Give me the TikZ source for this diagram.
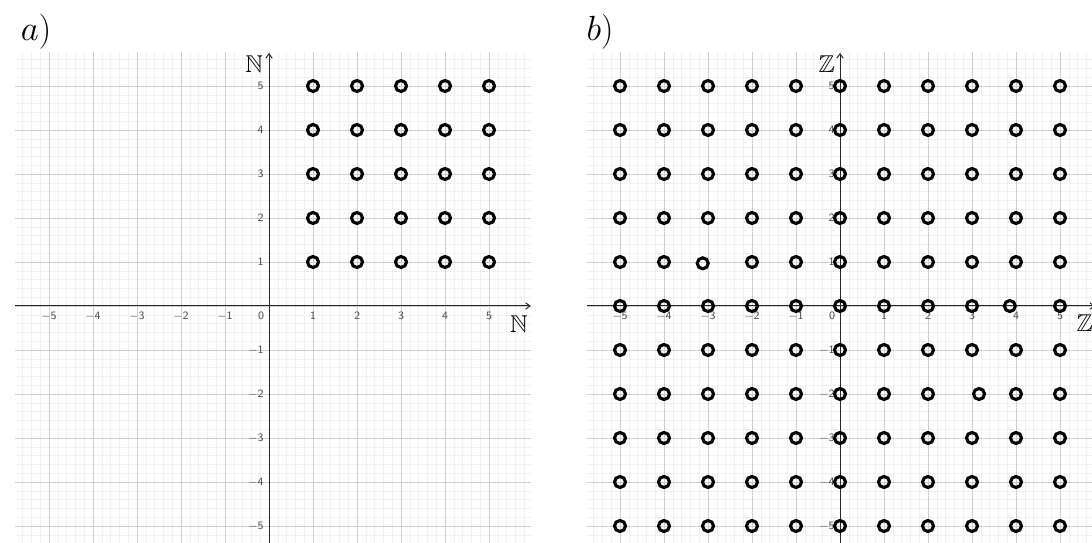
\documentclass[tikz,border=0pt]{standalone}
\usepackage{amsmath,amssymb}
\usepackage{xcolor}
\usepackage{tikz}
\usetikzlibrary{arrows.meta}

\begin{document}
\begin{tikzpicture}[
  minorgrid/.style={draw=gray!11, line width=0.4pt},
  majorgrid/.style={draw=gray!38, line width=0.6pt},
  axis/.style={-{Straight Barb[length=1.1mm,width=1.6mm]}, black!85, line width=0.7pt},
  tick/.style={font=\sffamily\footnotesize, text=black!70, inner sep=0.5pt},
  lattice/.style={draw=black, line width=2.2pt},
  setname/.style={font=\LARGE, inner sep=0pt},
  every node/.style={font=\small}
]
\useasboundingbox (0,0) rectangle (27.3,13.575);
% panel labels
\node (lbla) at (0.9,12.78) {\Huge $a)$};
\node (lblb) at (15.0,12.78) {\Huge $b)$};
% panel a: N x N
\begin{scope}[shift={(6.725,5.925)}, x=1.1cm, y=1.1cm]
\begin{scope}
\clip (-5.77,-5.5) rectangle (5.95,5.75);
\draw[minorgrid, step=0.2] (-6,-6) grid (6,6);
\draw[majorgrid, step=1] (-6,-6) grid (6,6);
\end{scope}
\coordinate (axl) at (-5.77,0);
\coordinate (axr) at (5.95,0);
\coordinate (ayb) at (0,-5.5);
\coordinate (ayt) at (0,5.75);
\draw[axis] (axl) -- (axr);
\draw[axis] (ayb) -- (ayt);
\foreach \i in {-5,...,-1,1,2,...,5} {
  \node[tick] (ta\i) at (\i,-0.23) {$\mathsf{\i}$};
  \node[tick, anchor=east] (sa\i) at (-0.1,\i) {$\mathsf{\i}$};
}
\node[tick] (oa) at (-0.18,-0.23) {$\mathsf{0}$};
\node[setname] (na1) at (-0.34,5.5) {$\mathbb{N}$};
\node[setname] (na2) at (5.68,-0.41) {$\mathbb{N}$};
% points
\foreach \x in {1,...,5}
  \foreach \y in {1,...,5}
    \draw[lattice] (\x,\y) circle (0.125);
\end{scope}
% panel b: Z x Z
\begin{scope}[shift={(21.0,5.925)}, x=1.1cm, y=1.1cm]
\begin{scope}
\clip (-5.75,-5.5) rectangle (5.8,5.75);
\draw[minorgrid, step=0.2] (-6,-6) grid (6,6);
\draw[majorgrid, step=1] (-6,-6) grid (6,6);
\end{scope}
\coordinate (bxl) at (-5.75,0);
\coordinate (bxr) at (5.8,0);
\coordinate (byb) at (0,-5.5);
\coordinate (byt) at (0,5.75);
\draw[axis] (bxl) -- (bxr);
\draw[axis] (byb) -- (byt);
\foreach \i in {-5,...,-1,1,2,...,5} {
  \node[tick] (tb\i) at (\i,-0.23) {$\mathsf{\i}$};
  \node[tick, anchor=east] (sb\i) at (-0.1,\i) {$\mathsf{\i}$};
}
\node[tick] (ob) at (-0.18,-0.23) {$\mathsf{0}$};
\node[setname] (zb1) at (-0.3,5.5) {$\mathbb{Z}$};
\node[setname] (zb2) at (5.56,-0.39) {$\mathbb{Z}$};
% points, three of them set a little off
\foreach \x in {-5,...,5}
  \foreach \y in {-5,...,5} {
    \ifnum\x=-3 \ifnum\y=1 \def\dx{-0.12}\def\dy{-0.03}\else\def\dx{0}\def\dy{0}\fi
    \else\ifnum\x=4 \ifnum\y=0 \def\dx{-0.14}\def\dy{0}\else\def\dx{0}\def\dy{0}\fi
    \else\ifnum\x=3 \ifnum\y=-2 \def\dx{0.16}\def\dy{0}\else\def\dx{0}\def\dy{0}\fi
    \else\def\dx{0}\def\dy{0}\fi\fi\fi
    \draw[lattice] (\x+\dx,\y+\dy) circle (0.125);
  }
\end{scope}
\end{tikzpicture}
\end{document}
